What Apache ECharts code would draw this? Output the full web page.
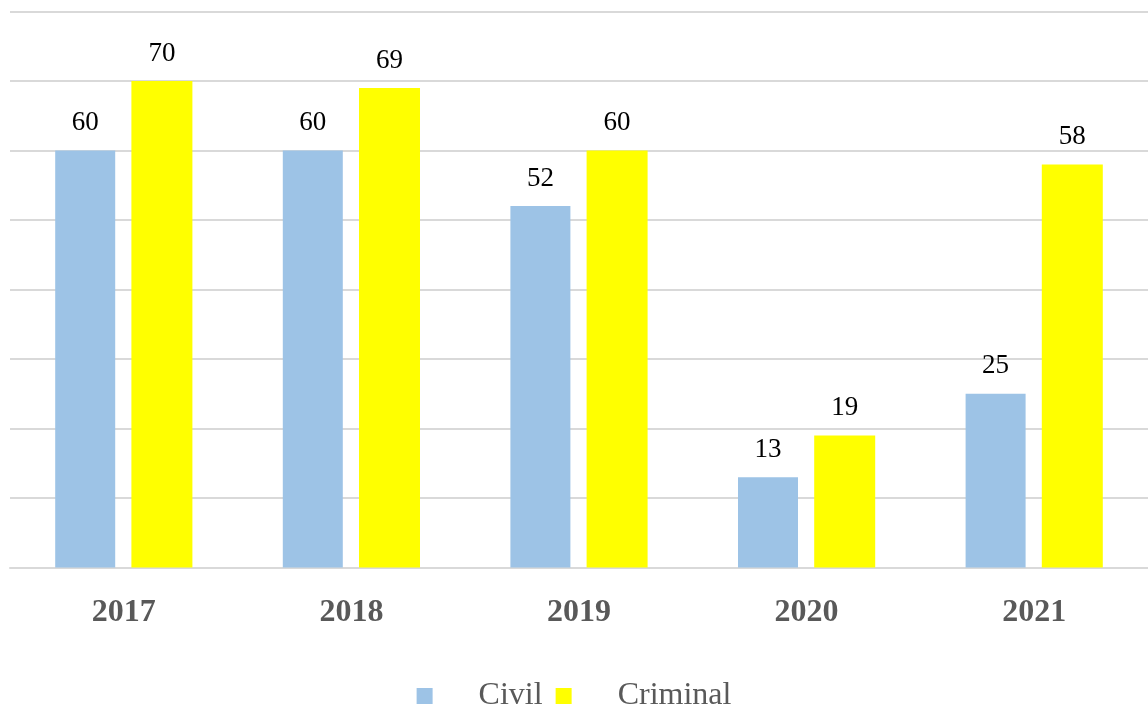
<!DOCTYPE html>
<html>
<head>
<meta charset="utf-8">
<script src="https://cdn.jsdelivr.net/npm/echarts@6/dist/echarts.min.js"></script>
<style>
html,body{margin:0;padding:0;background:#fff;}
#chart{width:1148px;height:711px;}
</style>
</head>
<body>
<div id="chart"></div>
<script>
const categories = ['2017', '2018', '2019', '2020', '2021'];
const civil = [60, 60, 52, 13, 25];
const criminal = [70, 69, 60, 19, 58];
const seriesNames = ['Civil', 'Criminal'];

const FONT = '"Liberation Serif", "DejaVu Serif", serif';
const chart = echarts.init(document.getElementById('chart'));
const labelStyle = {
  show: true, position: 'top', distance: 14,
  color: '#000', fontSize: 27, fontFamily: FONT
};
chart.setOption({
  animation: false,
  grid: { left: 10, width: 1143, top: 11.5, bottom: 143.5, containLabel: false },
  legend: {
    data: seriesNames,
    left: 'center', top: 675,
    itemWidth: 16, itemHeight: 16, itemGap: 13,
    icon: 'rect',
    textStyle: { fontSize: 32, fontFamily: FONT, color: '#595959', padding: [0, 0, 0, 41] }
  },
  xAxis: {
    type: 'category', data: categories,
    axisLine: { lineStyle: { color: '#d9d9d9', width: 2 } },
    axisTick: { show: false },
    axisLabel: { fontSize: 32, fontWeight: 'bold', fontFamily: FONT, color: '#595959', margin: 29 }
  },
  yAxis: {
    type: 'value', min: 0, max: 80, interval: 10,
    axisLabel: { show: false }, axisLine: { show: false }, axisTick: { show: false },
    splitLine: { lineStyle: { color: '#d9d9d9', width: 2 } }
  },
  series: [
    { name: seriesNames[0], type: 'bar', data: civil, barWidth: 60, barGap: '27%',
      itemStyle: { color: '#9dc3e6' }, label: labelStyle },
    { name: seriesNames[1], type: 'bar', data: criminal, barWidth: 61,
      itemStyle: { color: '#ffff00' }, label: labelStyle }
  ]
});
</script>
</body>
</html>
